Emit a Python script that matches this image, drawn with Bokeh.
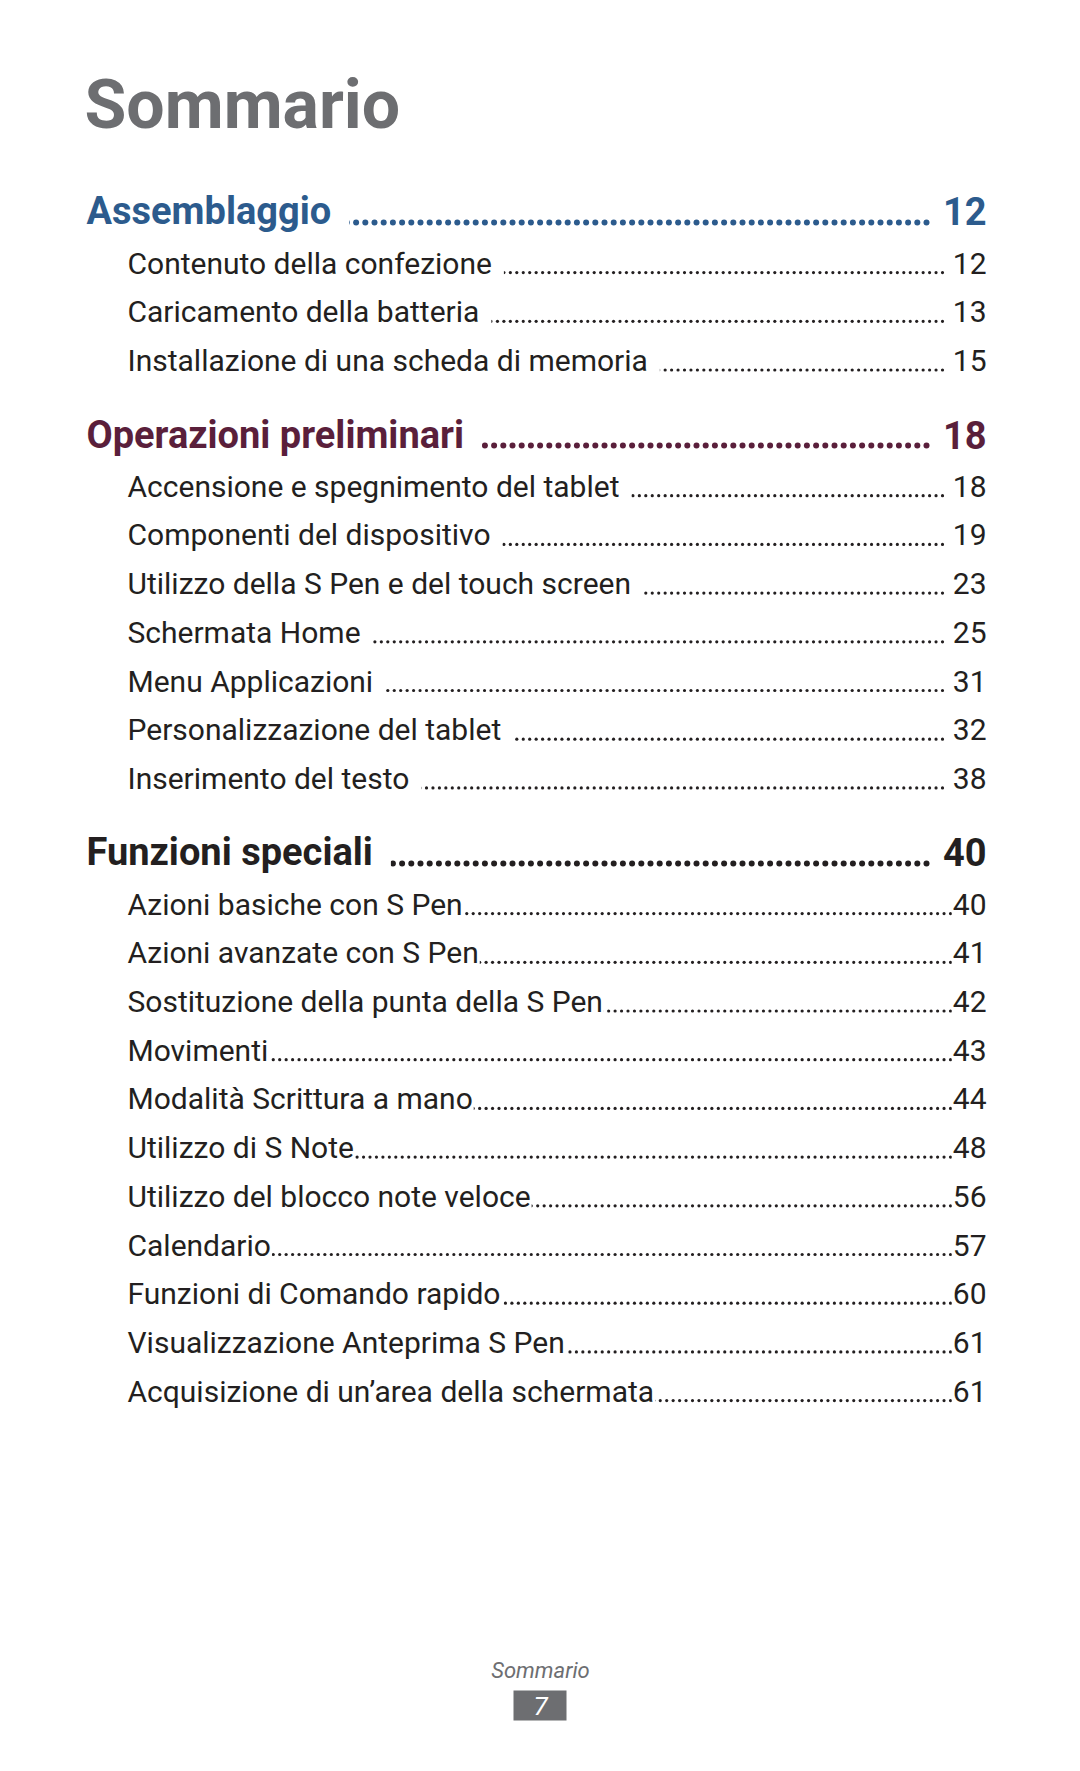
import numpy as np
from bokeh.plotting import figure
from bokeh.models import Range1d
from bokeh.core.properties import value
from bokeh.embed import file_html
from bokeh.resources import INLINE

# ---------------- data ----------------
TITLE = "Sommario"
SECTIONS = ["Assemblaggio", "Operazioni preliminari", "Funzioni speciali"]
SECTION_PAGES = ["12", "18", "40"]
ITEMS_1 = ["Contenuto della confezione", "Caricamento della batteria",
           "Installazione di una scheda di memoria"]
PAGES_1 = ["12", "13", "15"]
ITEMS_2 = ["Accensione e spegnimento del tablet", "Componenti del dispositivo",
           "Utilizzo della S Pen e del touch screen", "Schermata Home",
           "Menu Applicazioni", "Personalizzazione del tablet", "Inserimento del testo"]
PAGES_2 = ["18", "19", "23", "25", "31", "32", "38"]
ITEMS_3 = ["Azioni basiche con S Pen", "Azioni avanzate con S Pen",
           "Sostituzione della punta della S Pen", "Movimenti",
           "Modalità Scrittura a mano", "Utilizzo di S Note",
           "Utilizzo del blocco note veloce", "Calendario",
           "Funzioni di Comando rapido", "Visualizzazione Anteprima S Pen",
           "Acquisizione di un’area della schermata"]
PAGES_3 = ["40", "41", "42", "43", "44", "48", "56", "57", "60", "61", "61"]
FOOTER_LABEL = "Sommario"
FOOTER_PAGE = "7"

ITEMS = [ITEMS_1, ITEMS_2, ITEMS_3]
PAGES = [PAGES_1, PAGES_2, PAGES_3]

# ---------------- style / layout ----------------
FONT = value("Roboto")
HEAD_COLORS = ["#2c5b8d", "#5a1f3b", "#231f20"]
BODY = "#231f20"
GREY = "#6d6e71"
X_HEAD, X_ITEM, X_NUM = 86, 127, 986
Y0, ROW, GAP = 225, 48.7, 77
HEAD_DOT_END = 926
ITEM_DOT_END = [942, 942, 950]
LABEL_PAD = [12, 12, 1]
NUM_PAD = [7, 7, 1]
TITLE_SIZE, HEAD_SIZE, ITEM_SIZE = 68, 38, 30
BL = 0.37  # baseline correction (fraction of font size)


def pad(left=0, right=0):
    return dict(left=left, right=right, top=0, bottom=0)


p = figure(width=1064, height=1755, output_backend="svg", toolbar_location=None,
           x_range=Range1d(0, 1064), y_range=Range1d(1755, 0),
           x_axis_type=None, y_axis_type=None, min_border=0)
p.outline_line_color = None
p.background_fill_color = "white"
p.border_fill_color = "white"

# title
p.text(x=[X_HEAD - 2], y=[130 - BL * TITLE_SIZE], text=[TITLE], text_font=FONT,
       text_font_style="bold", text_font_size=f"{TITLE_SIZE}px", text_color=GREY,
       text_baseline="alphabetic")

# compute row baselines
head_y = []
item_y = []
y = Y0
for sec_items in ITEMS:
    head_y.append(y)
    ys = []
    for _ in sec_items:
        y += ROW
        ys.append(y)
    item_y.append(ys)
    y += GAP

# dot leaders (decoration)
for k in range(3):
    hx = np.arange(HEAD_DOT_END, X_HEAD + 40, -9.2)
    p.scatter(x=hx, y=np.full(len(hx), head_y[k] - 3), size=6, marker="circle",
              color=HEAD_COLORS[k], line_color=None)
    for yy in item_y[k]:
        ix = np.arange(ITEM_DOT_END[k], X_ITEM + 30, -6.45)
        p.scatter(x=ix, y=np.full(len(ix), yy - 1.6), size=3.2, marker="circle",
                  color=BODY, line_color=None)

# headings
for k in range(3):
    ty = head_y[k] - BL * HEAD_SIZE
    p.text(x=[X_HEAD], y=[ty], text=[SECTIONS[k]], text_font=FONT,
           text_font_style="bold", text_font_size=f"{HEAD_SIZE}px",
           text_color=HEAD_COLORS[k], text_baseline="alphabetic",
           background_fill_color="white", padding=pad(right=18))
    p.text(x=[X_NUM], y=[ty], text=[SECTION_PAGES[k]], text_font=FONT,
           text_font_style="bold", text_font_size=f"{HEAD_SIZE}px",
           text_color=HEAD_COLORS[k], text_baseline="alphabetic", text_align="right",
           background_fill_color="white", padding=pad(left=12))

# items
for k in range(3):
    ty = [v - BL * ITEM_SIZE for v in item_y[k]]
    p.text(x=[X_ITEM] * len(ITEMS[k]), y=ty, text=ITEMS[k], text_font=FONT,
           text_font_size=f"{ITEM_SIZE}px", text_color=BODY, text_baseline="alphabetic",
           background_fill_color="white", padding=pad(right=LABEL_PAD[k]))
    p.text(x=[X_NUM] * len(PAGES[k]), y=ty, text=PAGES[k], text_font=FONT,
           text_font_size=f"{ITEM_SIZE}px", text_color=BODY, text_baseline="alphabetic",
           text_align="right", background_fill_color="white",
           padding=pad(left=NUM_PAD[k]))

# footer
p.text(x=[540], y=[1678 - BL * 22], text=[FOOTER_LABEL], text_font=FONT,
       text_font_style="italic", text_font_size="22px", text_color=GREY,
       text_baseline="alphabetic", text_align="center")
p.quad(left=[513], right=[566], top=[1690], bottom=[1720], color=GREY, line_color=None)
p.text(x=[540], y=[1715 - BL * 26], text=[FOOTER_PAGE], text_font=FONT,
       text_font_style="italic", text_font_size="26px", text_color="white",
       text_baseline="alphabetic", text_align="center")

open("out.html", "w").write(file_html(p, INLINE))
